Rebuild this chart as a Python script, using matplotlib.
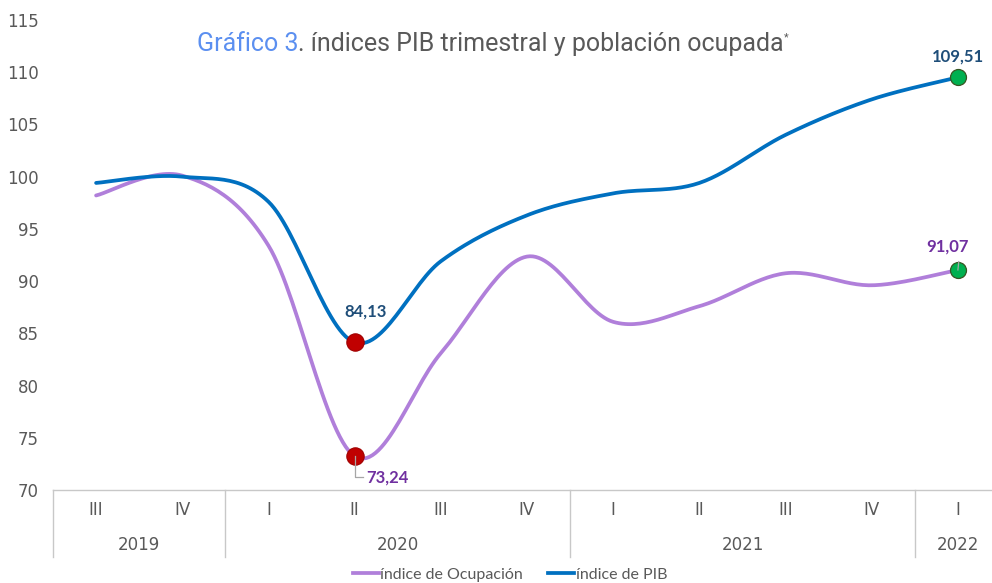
import matplotlib
matplotlib.use('Agg')
import matplotlib.pyplot as plt
import matplotlib.transforms as mtransforms
from matplotlib.lines import Line2D
import numpy as np

# Data
quarters = ['III', 'IV', 'I', 'II', 'III', 'IV', 'I', 'II', 'III', 'IV', 'I']
years = ['2019', '2020', '2021', '2022']
year_spans = [(0, 1), (2, 5), (6, 9), (10, 10)]
ocupacion = [98.2, 100.1, 93.4, 73.24, 83.1, 92.35, 86.1, 87.6, 90.75, 89.6, 91.07]
pib = [99.4, 100.0, 97.6, 84.13, 91.9, 96.3, 98.4, 99.4, 104.0, 107.4, 109.51]

C_OCU = '#B07FDA'
C_PIB = '#0070C0'
GRAY = '#595959'
AXIS_GRAY = '#C8C8C8'
NARROW = ['Liberation Sans Narrow', 'DejaVu Sans']


def smooth(xs, ys, n=30):
    """Excel-like smoothed line (Catmull-Rom as cubic Bezier)."""
    xs = np.asarray(xs, float)
    ys = np.asarray(ys, float)
    px, py = [], []
    for i in range(len(xs) - 1):
        i0 = max(i - 1, 0)
        i3 = min(i + 2, len(xs) - 1)
        p0 = np.array([xs[i], ys[i]])
        p3 = np.array([xs[i + 1], ys[i + 1]])
        c1 = p0 + (p3 - np.array([xs[i0], ys[i0]])) / 6.0
        c2 = p3 - (np.array([xs[i3], ys[i3]]) - p0) / 6.0
        t = np.linspace(0, 1, n)[:, None]
        pts = ((1 - t) ** 3 * p0 + 3 * (1 - t) ** 2 * t * c1
               + 3 * (1 - t) * t ** 2 * c2 + t ** 3 * p3)
        px.extend(pts[:, 0])
        py.extend(pts[:, 1])
    return px, py


W, H = 992, 583
fig = plt.figure(figsize=(W / 100, H / 100), dpi=100)
ax = fig.add_axes([53 / W, 1 - 490 / H, 948 / W, 470 / H])

x = np.arange(len(quarters))
sx, sy = smooth(x, ocupacion)
ax.plot(sx, sy, color=C_OCU, lw=2.7, solid_capstyle='round', zorder=3)
sx, sy = smooth(x, pib)
ax.plot(sx, sy, color=C_PIB, lw=2.7, solid_capstyle='round', zorder=3)

# highlighted points
i_min, i_last = 3, len(x) - 1
for vals in (ocupacion, pib):
    ax.plot(x[i_min], vals[i_min], 'o', ms=12.5, color='#C00000',
            mec='#A00000', mew=0.8, zorder=5)
    ax.plot(x[i_last], vals[i_last], 'o', ms=11.5, color='#00B050',
            mec='#375623', mew=0.9, zorder=5)

lbl = dict(fontsize=12, fontweight='bold', family=['Lato', 'DejaVu Sans'])
ax.text(x[i_min] + 0.13, pib[i_min] + 3.0, '84,13', color='#1F4E79',
        ha='center', va='center', **lbl)
ax.text(x[i_last], pib[i_last] + 2.0, '109,51', color='#1F4E79',
        ha='center', va='center', **lbl)
ax.text(x[i_last] - 0.12, ocupacion[i_last] + 2.2, '91,07', color='#7030A0',
        ha='center', va='center', **lbl)
ax.text(x[i_min] + 0.14, ocupacion[i_min] - 2.0, '73,24', color='#7030A0',
        ha='left', va='center', **lbl)
# leader lines
ax.plot([x[i_min] + 0.01, x[i_min] + 0.01, x[i_min] + 0.1],
        [ocupacion[i_min], ocupacion[i_min] - 2.0, ocupacion[i_min] - 2.0],
        color='#A6A6A6', lw=0.9, zorder=6)
ax.plot([x[i_last], x[i_last] + 0.01], [ocupacion[i_last], ocupacion[i_last] + 0.8],
        color='#A6A6A6', lw=0.9, zorder=6)

ax.set_xlim(-0.5, len(x) - 0.5)
ax.set_ylim(70, 115)
ax.set_yticks(range(70, 116, 5))
for s in ('top', 'right', 'left'):
    ax.spines[s].set_visible(False)
ax.spines['bottom'].set_color(AXIS_GRAY)
ax.spines['bottom'].set_linewidth(1.0)
ax.tick_params(axis='y', length=0, pad=10, labelsize=12, labelcolor=GRAY)
for t in ax.get_yticklabels():
    t.set_family(NARROW)

ax.set_xticks(x)
ax.set_xticklabels(quarters)
ax.tick_params(axis='x', length=0, pad=8, labelsize=12, labelcolor=GRAY)
for t in ax.get_xticklabels():
    t.set_family(NARROW)

# year row and group separators
trans = mtransforms.blended_transform_factory(ax.transData, ax.transAxes)
sep_bottom = -(557 - 490) / 470
seps = [-0.5] + [b + 0.5 for a, b in year_spans[:-1]]
for s in seps:
    ax.plot([s, s], [0, sep_bottom], color=AXIS_GRAY, lw=1.0,
            transform=trans, clip_on=False)
for yr, (a, b) in zip(years, year_spans):
    cx = (a + b) / 2
    ax.text(cx, -(545 - 490) / 470, yr, transform=trans, ha='center',
            va='center', fontsize=12, color=GRAY, family=NARROW)

# title
TFONT = ['Roboto', 'DejaVu Sans']
t1 = fig.text(197 / W, 1 - 51 / H, 'Gráfico 3', color='#5B8FF0', fontsize=18,
              va='baseline', ha='left', family=TFONT)
t2 = ax.annotate('. índices PIB trimestral y población ocupada', xy=(1, 0),
                 xycoords=t1, va='bottom', ha='left', color=GRAY, fontsize=18,
                 family=TFONT, annotation_clip=False)
ax.annotate('*', xy=(1, 1), xycoords=t2, va='top', ha='left', color=GRAY,
            fontsize=8, family=TFONT, annotation_clip=False)

# legend
handles = [Line2D([], [], color=C_OCU, lw=2.7), Line2D([], [], color=C_PIB, lw=2.7)]
fig.legend(handles, ['índice de Ocupación', 'índice de PIB'], loc='center',
           bbox_to_anchor=(510 / W, 1 - 575 / H), ncol=2, frameon=False,
           handlelength=1.6, handletextpad=0.1, columnspacing=1.6,
           prop={'family': ['Lato', 'DejaVu Sans'], 'size': 11.5},
           labelcolor=GRAY)

fig.savefig('out.png', dpi=100, facecolor='white')
